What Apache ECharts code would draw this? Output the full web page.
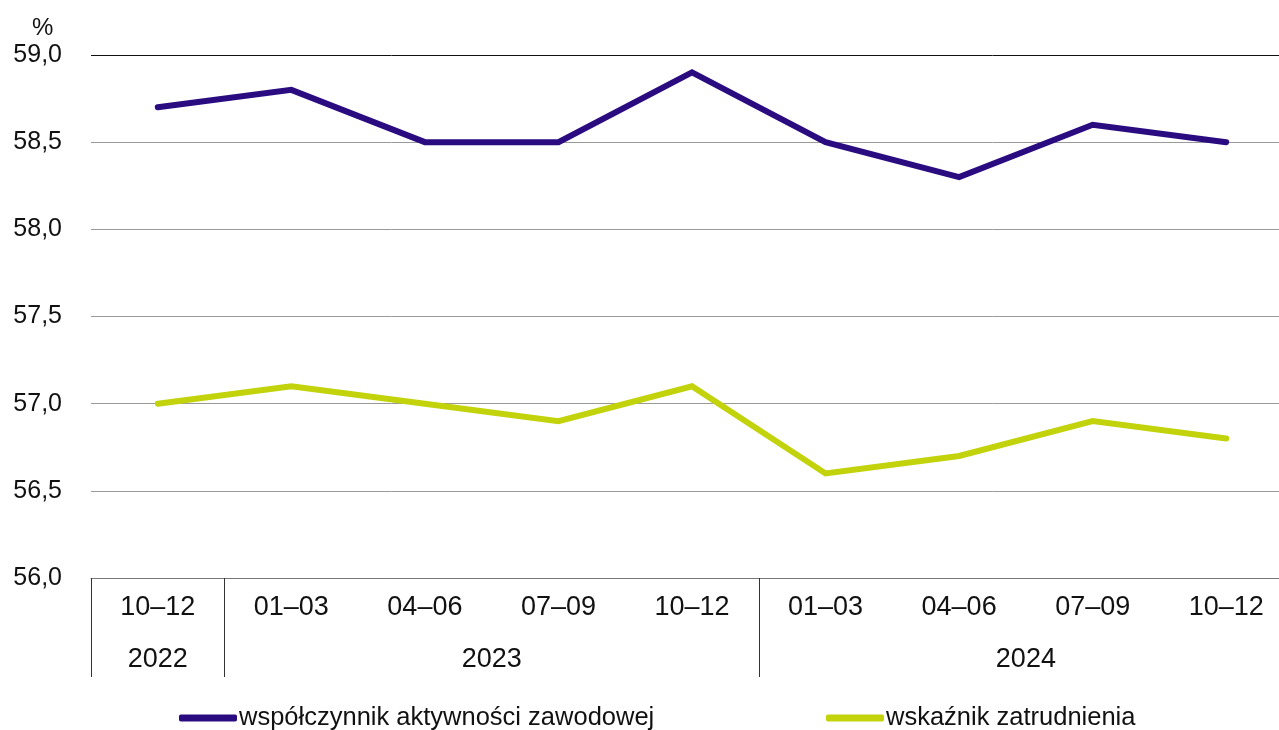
<!DOCTYPE html>
<html>
<head>
<meta charset="utf-8">
<script src="https://cdn.jsdelivr.net/npm/echarts@6/dist/echarts.min.js"></script>
<style>
  html, body { margin: 0; padding: 0; background: #fff; overflow: hidden; }
  #chart { width: 1300px; height: 730px; }
</style>
</head>
<body>
<div id="chart"></div>
<script>
const quarters = ['10–12', '01–03', '04–06', '07–09', '10–12', '01–03', '04–06', '07–09', '10–12']
const years = ['2022', '2023', '2024']
const yearSpans = [1, 4, 4]
const activityRate = [58.7, 58.8, 58.5, 58.5, 58.9, 58.5, 58.3, 58.6, 58.5]
const employmentRate = [57.0, 57.1, 57.0, 56.9, 57.1, 56.6, 56.7, 56.9, 56.8]
const seriesNames = ['współczynnik aktywności zawodowej', 'wskaźnik zatrudnienia']

const FONT = '"Liberation Sans", Arial, sans-serif'

// year label positions (centre of each span) and separator positions
const yearCenters = []
const yearBounds = [0]
let acc = 0
yearSpans.forEach((n) => {
    yearCenters.push(acc + n / 2)
    acc += n
    yearBounds.push(acc)
})

const chart = echarts.init(document.getElementById('chart'))

const legendStyle = {
    top: 700,
    icon: 'roundRect',
    itemWidth: 58,
    itemHeight: 7,
    textStyle: { fontFamily: FONT, fontSize: 25.5, color: '#111', padding: [0, 0, 0, -3] },
}

chart.setOption({
    animation: false,
    textStyle: { fontFamily: FONT },
    title: {
        text: '%',
        left: 27,
        top: 11,
        textStyle: { fontFamily: FONT, fontSize: 24, fontWeight: 'normal', color: '#111' },
    },
    grid: { left: 91, top: 55, width: 1202, height: 523 },
    legend: [
        Object.assign({ data: [seriesNames[0]], left: 174 }, legendStyle),
        Object.assign({ data: [seriesNames[1]], left: 821 }, legendStyle),
    ],
    xAxis: [
        {
            type: 'category',
            data: quarters,
            boundaryGap: true,
            axisLine: { show: true, lineStyle: { color: '#777', width: 1 } },
            axisTick: { show: false },
            axisLabel: { fontFamily: FONT, fontSize: 27, color: '#111', margin: 16, interval: 0 },
        },
        {
            type: 'value',
            min: 0,
            max: quarters.length,
            position: 'bottom',
            axisLine: { show: false },
            splitLine: { show: false },
            axisTick: {
                show: true,
                length: 99,
                customValues: yearBounds,
                lineStyle: { color: '#333', width: 1 },
            },
            axisLabel: {
                fontFamily: FONT,
                fontSize: 27,
                color: '#111',
                margin: 68,
                customValues: yearCenters,
                formatter: (v) => years[yearCenters.indexOf(v)] || '',
            },
        },
    ],
    yAxis: {
        type: 'value',
        min: 56,
        max: 59,
        interval: 0.5,
        axisLine: { show: false },
        axisTick: { show: false },
        axisLabel: {
            fontFamily: FONT,
            fontSize: 25,
            color: '#111',
            margin: 29,
            formatter: (v) => v.toFixed(1).replace('.', ','),
        },
        splitLine: {
            lineStyle: {
                color: ['#777', '#999', '#999', '#999', '#999', '#999', '#111'],
                width: 1,
            },
        },
    },
    series: [
        {
            name: seriesNames[0],
            type: 'line',
            data: activityRate,
            symbol: 'none',
            color: '#2b0c80',
            lineStyle: { width: 6, cap: 'round', join: 'miter' },
        },
        {
            name: seriesNames[1],
            type: 'line',
            data: employmentRate,
            symbol: 'none',
            color: '#c2d30c',
            lineStyle: { width: 6, cap: 'round', join: 'miter' },
        },
    ],
})
</script>
</body>
</html>
